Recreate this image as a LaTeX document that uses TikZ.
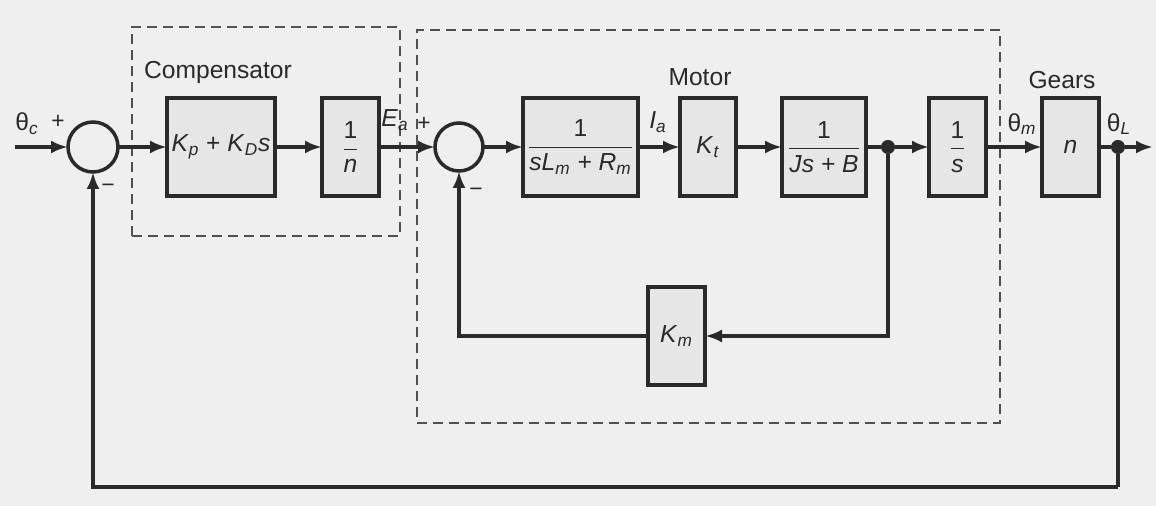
\documentclass[tikz,border=0pt]{standalone}
\usepackage{amsmath}
\usepackage{fontspec}
\setmainfont{Liberation Sans}
\usetikzlibrary{arrows.meta,positioning,fit}
\definecolor{PaperGray}{HTML}{EFEFEF}
\definecolor{BoxGray}{HTML}{E6E6E6}
\definecolor{InkGray}{HTML}{2A2A2A}
\definecolor{DashGray}{HTML}{505050}
\tikzset{
  blk/.style={draw=InkGray, line width=2pt, fill=BoxGray, align=center, minimum height=1.96cm, inner sep=2pt, outer sep=0pt, font=\fontsize{14}{16}\selectfont, text=InkGray},
  sumnode/.style={circle, draw=InkGray, line width=2pt, fill=PaperGray, minimum size=1cm, inner sep=0pt, outer sep=0pt},
  dotnode/.style={circle, fill=InkGray, minimum size=8pt, inner sep=0pt},
  groupbox/.style={draw=DashGray, line width=1.4pt, dash pattern=on 2mm off 1.2mm, inner sep=0pt},
  sig/.style={-{Latex[length=3.4mm,width=2.6mm]}, line width=2pt, draw=InkGray},
  wire/.style={line width=2pt, draw=InkGray},
  lbl/.style={font=\fontsize{14}{16}\selectfont, text=InkGray, inner sep=1pt},
  sgn/.style={font=\fontsize{13}{15}\selectfont, text=InkGray, inner sep=0pt}
}
\newcommand{\iv}[1]{\textit{#1}}
\newcommand{\isub}[2]{\textit{#1}\textsubscript{\textit{#2}}}
\begin{document}
\begin{tikzpicture}[x=0.2mm, y=-0.2mm]
\fill[PaperGray] (0,0) rectangle (1156,506);
% dashed groups
\node[groupbox, fit={(132,27) (400,236)}] (compbox) {};
\node[groupbox, fit={(417,30) (1000,423)}] (motorbox) {};
% forward path
\coordinate (in) at (15,147);
\node[sumnode] (sum1) at (93,147) {};
\node[blk, minimum width=2.16cm, right=0.98cm of sum1] (pd) {\isub{K}{p} + \isub{K}{D}\iv{s}};
\node[blk, minimum width=1.14cm, right=0.94cm of pd] (gain) {$\dfrac{\text{1}}{\text{\itshape n}}$};
\node[sumnode, minimum size=0.96cm, right=1.12cm of gain] (sum2) {};
\node[blk, minimum width=2.3cm, right=0.8cm of sum2] (elec) {$\dfrac{\text{1}}{\text{\itshape sL\textsubscript{m} + R\textsubscript{m}}}$};
\node[blk, minimum width=1.12cm, right=0.84cm of elec] (kt) {\isub{K}{t}};
\node[blk, minimum width=1.68cm, right=0.92cm of kt] (mech) {$\dfrac{\text{1}}{\text{\itshape Js + B}}$};
\node[blk, minimum width=1.14cm, right=1.26cm of mech] (integ) {$\dfrac{\text{1}}{\text{\itshape s}}$};
\node[blk, minimum width=1.14cm, right=1.12cm of integ] (gear) {\iv{n}};
\node[dotnode] (tap1) at (888,147) {};
\node[dotnode] (tap2) at (1118,147) {};
\coordinate (out) at (1153,147);
% feedback
\node[blk, minimum width=1.14cm] (km) at (676.5,336) {\isub{K}{m}};
\coordinate (base) at (1118,487);
% labels
\node[lbl] (complbl) at (218,72) {Compensator};
\node[lbl] (motorlbl) at (700,77) {Motor};
\node[lbl] (gearlbl) at (1062,80) {Gears};
\node[lbl] (thc) at (27,124) {θ\textsubscript{\textit{c}}};
\node[sgn] (p1) at (58,122) {+};
\node[sgn] (m1) at (108,188) {−};
\node[lbl] (ea) at (395,120) {\isub{E}{a}};
\node[sgn] (p2) at (424,124) {+};
\node[sgn] (m2) at (476,192) {−};
\node[lbl] (ia) at (658,122) {\isub{I}{a}};
\node[lbl] (thm) at (1022,124) {θ\textsubscript{\textit{m}}};
\node[lbl] (thl) at (1119,124) {θ\textsubscript{\textit{L}}};
% connectors
\draw[sig] (in) -- (sum1);
\draw[sig] (sum1) -- (pd);
\draw[sig] (pd) -- (gain);
\draw[sig] (gain) -- (sum2);
\draw[sig] (sum2) -- (elec);
\draw[sig] (elec) -- (kt);
\draw[sig] (kt) -- (mech);
\draw[wire] (mech) -- (tap1);
\draw[sig] (tap1) -- (integ);
\draw[sig] (integ) -- (gear);
\draw[wire] (gear) -- (tap2);
\draw[sig] (tap2) -- (out);
\draw[sig] (tap1) |- (km);
\draw[sig] (km) -| (sum2);
\draw[wire] (tap2) -- (base);
\draw[sig] (base) -| (sum1);
\end{tikzpicture}
\end{document}
